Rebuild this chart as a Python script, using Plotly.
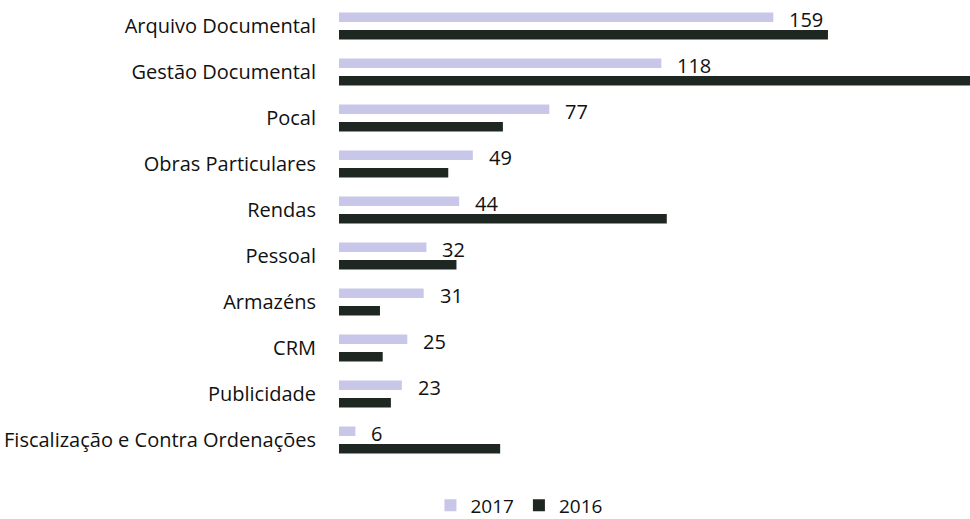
import plotly.graph_objects as go

categories = ["Arquivo Documental", "Gestão Documental", "Pocal", "Obras Particulares",
              "Rendas", "Pessoal", "Armazéns", "CRM", "Publicidade",
              "Fiscalização e Contra Ordenações"]
values_2017 = [159, 118, 77, 49, 44, 32, 31, 25, 23, 6]
values_2016 = [179, 240, 60, 40, 120, 43, 15, 16, 19, 59]
series_names = ["2017", "2016"]

FONT = "Open Sans"
C2017 = "#c9c7e9"
C2016 = "#1f2723"

fig = go.Figure()
fig.add_trace(go.Bar(y=categories, x=values_2017, name=series_names[0], orientation="h",
                     marker=dict(color=C2017, line=dict(width=0))))
fig.add_trace(go.Bar(y=categories, x=values_2016, name=series_names[1], orientation="h",
                     marker=dict(color=C2016, line=dict(width=0))))

for cat, v in zip(categories, values_2017):
    fig.add_annotation(x=v, y=cat, text=str(v), showarrow=False, xanchor="left",
                       yanchor="middle", xshift=14, yshift=7,
                       font=dict(family=FONT, size=20, color="#111111"))

fig.update_layout(
    width=970, height=519,
    margin=dict(l=339, r=0, t=3, b=56),
    barmode="group", bargap=0.24, bargroupgap=0.46,
    plot_bgcolor="white", paper_bgcolor="white",
    font=dict(family=FONT, size=20, color="#111111"),
    showlegend=True,
    legend=dict(orientation="h", xref="container", x=0.535, xanchor="center",
                yref="container", y=0.026, yanchor="middle",
                font=dict(size=19), itemwidth=30, traceorder="normal"),
    xaxis=dict(range=[0, 231], visible=False, showgrid=False, zeroline=False),
    yaxis=dict(autorange="reversed", showgrid=False, zeroline=False, showline=False,
               ticks="", ticklabelstandoff=22, tickfont=dict(size=20)),
)

fig.write_html("out.html", config={"displayModeBar": False},
               post_script="document.body.style.margin='0';")
